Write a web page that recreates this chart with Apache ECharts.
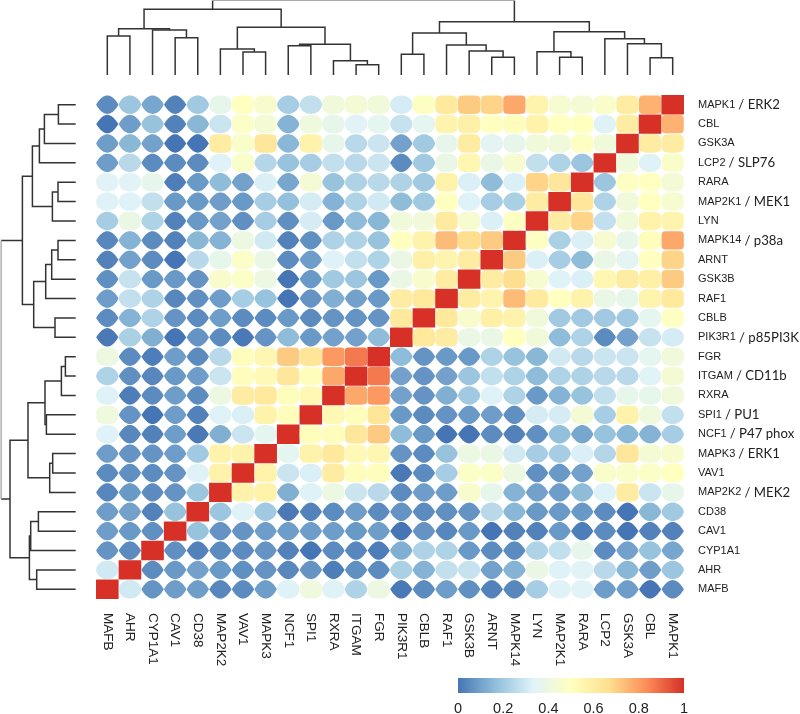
<!DOCTYPE html>
<html>
<head>
<meta charset="utf-8">
<style>
  html, body { margin: 0; padding: 0; background: #fff; }
  #main { width: 800px; height: 714px; }
</style>
<script src="https://cdn.jsdelivr.net/npm/echarts@6/dist/echarts.min.js"></script>
</head>
<body>
<div id="main"></div>
<script>
// gene order, same on both axes (index 0 = left column / bottom row)
const genes = ['MAFB','AHR','CYP1A1','CAV1','CD38','MAP2K2','VAV1','MAPK3','NCF1','SPI1','RXRA','ITGAM','FGR',
  'PIK3R1','CBLB','RAF1','GSK3B','ARNT','MAPK14','LYN','MAP2K1','RARA','LCP2','GSK3A','CBL','MAPK1'];
const aliases = {MAP2K2:'MEK2', MAPK3:'ERK1', NCF1:'P47 phox', SPI1:'PU1', ITGAM:'CD11b', PIK3R1:'p85PI3K',
  MAPK14:'p38a', MAP2K1:'MEK1', LCP2:'SLP76', MAPK1:'ERK2'};

// the matrix is symmetric, so only the part left of the diagonal is kept
const lowerTriangle = [
  [],
  [.30],
  [.07,.05],
  [.09,.08,.06],
  [.09,.10,.03,.18],
  [.04,.08,.05,.07,.19],
  [.05,.06,.05,.07,.33,.57],
  [.09,.07,.07,.09,.20,.57,.57],
  [.33,.04,.03,.09,.01,.13,.29,.36],
  [.41,.07,.00,.09,.03,.33,.32,.57,.51],
  [.33,.02,.05,.09,.05,.40,.60,.62,.51,.54],
  [.23,.06,.04,.08,.09,.29,.51,.53,.63,.51,.78],
  [.40,.05,.02,.09,.05,.25,.51,.55,.71,.64,.81,.87],
  [.01,.22,.13,.00,.07,.05,.01,.07,.16,.08,.10,.10,.16],
  [.05,.14,.23,.07,.05,.09,.05,.05,.08,.05,.07,.07,.07,.62],
  [.09,.27,.23,.04,.06,.09,.21,.18,.00,.07,.13,.10,.08,.60,.62],
  [.06,.28,.08,.08,.07,.46,.48,.40,.00,.08,.20,.19,.08,.39,.46,.60],
  [.03,.10,.05,.00,.25,.37,.48,.39,.05,.09,.33,.27,.23,.39,.58,.56,.60],
  [.04,.14,.05,.03,.15,.14,.40,.30,.03,.06,.23,.23,.18,.50,.57,.74,.67,.71],
  [.21,.39,.23,.03,.08,.10,.06,.21,.06,.31,.08,.16,.15,.42,.42,.61,.45,.32,.49],
  [.33,.33,.27,.08,.08,.09,.08,.21,.17,.31,.14,.23,.30,.16,.20,.50,.33,.21,.22,.60],
  [.34,.34,.37,.02,.08,.16,.10,.32,.11,.44,.18,.23,.25,.23,.20,.57,.32,.16,.32,.69,.63],
  [.09,.25,.05,.05,.05,.33,.47,.24,.18,.21,.27,.25,.29,.05,.20,.39,.55,.39,.45,.27,.23,.19],
  [.09,.15,.10,.00,.00,.60,.47,.63,.15,.57,.37,.25,.29,.10,.20,.37,.60,.35,.37,.42,.42,.49,.42],
  [.00,.09,.18,.03,.15,.29,.48,.44,.14,.41,.37,.34,.36,.28,.36,.56,.58,.50,.51,.57,.50,.50,.33,.60],
  [.05,.19,.11,.03,.20,.37,.50,.46,.21,.27,.42,.44,.42,.31,.49,.62,.71,.69,.78,.56,.45,.44,.47,.60,.76]
];

// hclust style merges: [childA, childB, height]; child >= 0 is a leaf, child < 0 is merge number -child (1-based)
const merges = [
  [0,1,39],[3,4,37.3],[2,-2,45],[-1,-3,46.3],
  [6,7,23],[5,-5,26],[8,9,29.3],[11,12,10.3],[10,-8,14.3],[-7,-9,30.7],[-6,-10,47.7],[-4,-11,65.7],
  [13,14,20.7],[17,18,17.7],[16,-14,24],[15,-15,30],[-13,-16,42],
  [20,21,17.7],[19,-18,23.3],[24,25,17.3],[23,-20,31.3],[22,-21,36.3],[-19,-22,43.3],[-17,-23,53.3],
  [-12,-24,74.6]
];

const rampColors = ['#4575b4','#91bfdb','#e0f3f8','#ffffbf','#fee090','#fc8d59','#d73027'];
const colorbarTicks = [0, 0.2, 0.4, 0.6, 0.8, 1];

// cell outline gets squarer as the value goes up: spiky lens -> ellipse -> rounded square -> square
const shapeLevels = [0, .1, .2, .33, .45, .6, .75, .9, 1];
const shapeExpX = [2, 2, 2, 2.1, 3, 4, 6, 9, 60];
const shapeExpY = [.95, 1.15, 1.55, 2.1, 3, 4, 6, 9, 60];

function lookup(v, ys) {
  for (let i = 1; i < shapeLevels.length; i++) {
    if (v <= shapeLevels[i]) {
      const t = (v - shapeLevels[i-1]) / (shapeLevels[i] - shapeLevels[i-1]);
      return ys[i-1] + t * (ys[i] - ys[i-1]);
    }
  }
  return ys[ys.length-1];
}

const cells = [];
genes.forEach((g, r) => {
  genes.forEach((g2, c) => {
    let v = 1;
    if (c < r) v = lowerTriangle[r][c];
    if (c > r) v = lowerTriangle[c][r];
    cells.push([c, r, v]);
  });
});

// walk the merges to get one polyline per merge
const positions = [];
const tops = [];
const links = [];
merges.forEach((m, i) => {
  const pa = m[0] >= 0 ? m[0] + 0.5 : positions[-m[0]-1];
  const pb = m[1] >= 0 ? m[1] + 0.5 : positions[-m[1]-1];
  const ha = m[0] >= 0 ? 0 : tops[-m[0]-1];
  const hb = m[1] >= 0 ? 0 : tops[-m[1]-1];
  positions.push((pa + pb) / 2);
  tops.push(m[2]);
  links.push({pa, pb, ha, hb, h: m[2], root: i === merges.length - 1});
});

function dendroData(toCoord) {
  const out = [];
  links.forEach(l => {
    if (l.root) {
      out.push({coords: [toCoord(l.pa, l.ha), toCoord(l.pa, l.h)]});
      out.push({coords: [toCoord(l.pb, l.hb), toCoord(l.pb, l.h)]});
      out.push({coords: [toCoord(l.pa, l.h), toCoord(l.pb, l.h)], lineStyle: {color: '#a8a8a8', width: 1.4}});
    } else {
      out.push({coords: [toCoord(l.pa, l.ha), toCoord(l.pa, l.h), toCoord(l.pb, l.h), toCoord(l.pb, l.hb)]});
    }
  });
  return out;
}

function renderCell(params, api) {
  const v = api.value(2);
  const center = api.coord([api.value(0), api.value(1)]);
  const size = api.size([1, 1]);
  const a = size[0] / 2 * (v >= 1 ? 1 : 0.985);
  const b = size[1] / 2 * (v >= 1 ? 1 : 0.95);
  const px = lookup(v, shapeExpX);
  const py = lookup(v, shapeExpY);
  const points = [];
  for (let i = 0; i < 64; i++) {
    const t = i / 64 * Math.PI * 2;
    const ct = Math.cos(t), st = Math.sin(t);
    points.push([
      center[0] + a * Math.sign(ct) * Math.pow(Math.abs(ct), 2 / px),
      center[1] + b * Math.sign(st) * Math.pow(Math.abs(st), 2 / py)
    ]);
  }
  return {type: 'polygon', shape: {points: points}, style: {fill: api.visual('color')}};
}

function renderColorbar(params, api) {
  const p0 = api.coord([0, 0]);
  const p1 = api.coord([1, 1]);
  const stops = rampColors.map((c, i) => ({offset: i / (rampColors.length - 1), color: c}));
  return {
    type: 'rect',
    shape: {x: p0[0], y: p1[1], width: p1[0] - p0[0], height: p0[1] - p1[1]},
    style: {fill: new echarts.graphic.LinearGradient(0, 0, 1, 0, stops)}
  };
}

const dendroStyle = {color: '#333', width: 1.5, opacity: 1};

const chart = echarts.init(document.getElementById('main'), null, {renderer: 'canvas'});
chart.setOption({
  animation: false,
  backgroundColor: '#fff',
  grid: [
    // outerBoundsMode none: v6 would otherwise shrink the grid to fit the long row labels
    {left: 96, top: 95, width: 588, height: 504, outerBoundsMode: 'none'},
    {left: 96, top: 0, width: 588, height: 75, outerBoundsMode: 'none'},
    {left: 0, top: 95, width: 75.7, height: 504, outerBoundsMode: 'none'},
    {left: 458, top: 678, width: 226, height: 15, outerBoundsMode: 'none'}
  ],
  xAxis: [
    {
      type: 'category', gridIndex: 0, data: genes, position: 'bottom',
      axisLine: {show: false}, axisTick: {show: false},
      axisLabel: {rotate: -90, interval: 0, margin: 14, fontSize: 13.5, color: '#222', fontFamily: 'Liberation Sans'}
    },
    {type: 'value', gridIndex: 1, min: 0, max: 26, show: false},
    {type: 'value', gridIndex: 2, min: 0, max: 75.7, inverse: true, show: false},
    {
      type: 'value', gridIndex: 3, min: 0, max: 1, interval: 0.2,
      axisLine: {show: false}, axisTick: {show: false}, splitLine: {show: false},
      axisLabel: {margin: 8, fontSize: 14.5, color: '#222', fontFamily: 'Liberation Sans', showMinLabel: true, showMaxLabel: true,
        formatter: function (val) { return colorbarTicks.indexOf(+val.toFixed(1)) >= 0 ? String(+val.toFixed(1)) : ''; }}
    }
  ],
  yAxis: [
    {
      type: 'category', gridIndex: 0, data: genes, position: 'right',
      axisLine: {show: false}, axisTick: {show: false},
      axisLabel: {
        interval: 0, margin: 14, color: '#222', fontSize: 11, fontFamily: 'Liberation Sans',
        formatter: function (name) {
          return aliases[name] ? '{a|' + name + '} {b|/ ' + aliases[name] + '}' : '{a|' + name + '}';
        },
        rich: {
          a: {fontSize: 11, fontFamily: 'Liberation Sans', color: '#222'},
          b: {fontSize: 13.2, fontFamily: 'Lato', color: '#222'}
        }
      }
    },
    {type: 'value', gridIndex: 1, min: 0, max: 75, show: false},
    {type: 'value', gridIndex: 2, min: 0, max: 26, show: false},
    {type: 'value', gridIndex: 3, min: 0, max: 1, show: false}
  ],
  visualMap: {
    type: 'continuous', show: false, min: 0, max: 1, dimension: 2, seriesIndex: 0,
    inRange: {color: rampColors}
  },
  series: [
    {
      type: 'custom', xAxisIndex: 0, yAxisIndex: 0, data: cells, renderItem: renderCell,
      encode: {x: 0, y: 1}, silent: true
    },
    {
      type: 'lines', coordinateSystem: 'cartesian2d', xAxisIndex: 1, yAxisIndex: 1, polyline: true, silent: true,
      lineStyle: dendroStyle, data: dendroData((p, h) => [p, h])
    },
    {
      type: 'lines', coordinateSystem: 'cartesian2d', xAxisIndex: 2, yAxisIndex: 2, polyline: true, silent: true,
      lineStyle: dendroStyle, data: dendroData((p, h) => [h, p])
    },
    {
      type: 'custom', xAxisIndex: 3, yAxisIndex: 3, data: [[0, 0]], renderItem: renderColorbar,
      encode: {x: 0, y: 1}, silent: true
    }
  ]
});
</script>
</body>
</html>
